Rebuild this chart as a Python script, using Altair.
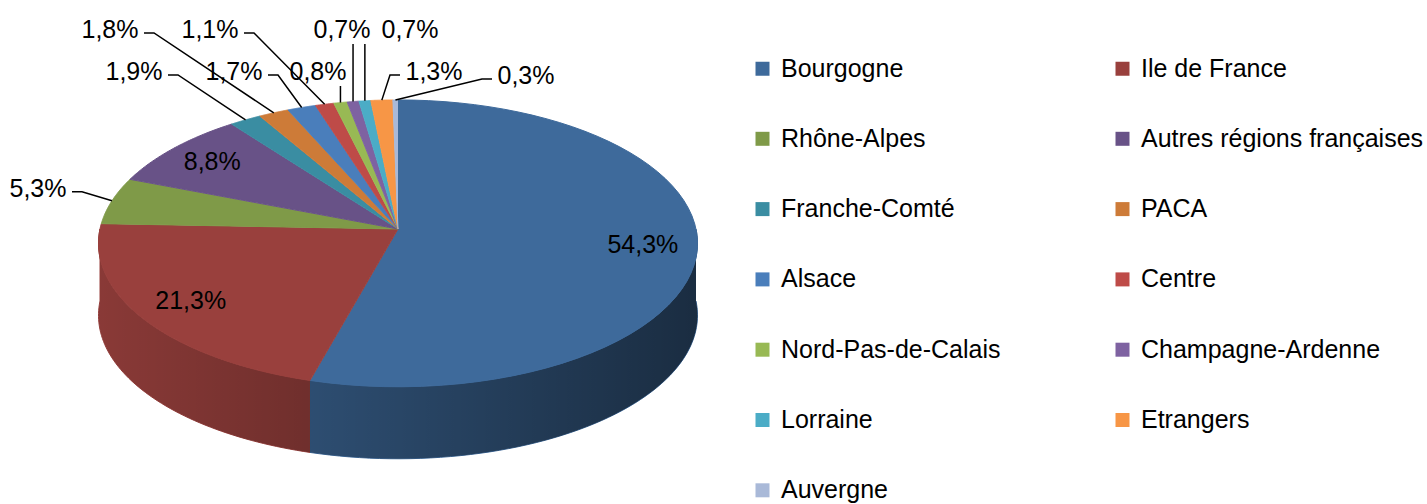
import math
import altair as alt
import pandas as pd

# ---------------- data ----------------
regions = ["Bourgogne", "Ile de France", "Rhône-Alpes", "Autres régions françaises",
           "Franche-Comté", "PACA", "Alsace", "Centre", "Nord-Pas-de-Calais",
           "Champagne-Ardenne", "Lorraine", "Etrangers", "Auvergne"]
shares = [54.3, 21.3, 5.3, 8.8, 1.9, 1.8, 1.7, 1.1, 0.8, 0.7, 0.7, 1.3, 0.3]

# ---------------- style ----------------
colors = ["#3E6A9B", "#99403D", "#7F9A48", "#685287", "#3A8DA2", "#CD7B38",
          "#4A7EBB", "#BE4B48", "#98B954", "#7E62A1", "#4BACC6", "#F79646", "#A9B9D8"]
FONT = "Liberation Sans"
CX, CY, RX, RY, P, DEPTH = 398, 229, 298, 142, 0.1, 72
N = 60

df = pd.DataFrame({"region": regions, "share": shares, "order": list(range(len(regions)))})
cscale = alt.Scale(domain=regions, range=colors)


def px(t, k=1.0):
    return f"({CX} + {k}*{RX}*sin({t})/(1 + {P}*{k}*cos({t})))"


def py(t, k=1.0):
    return f"({CY} - {k}*{RY}*cos({t})/(1 + {P}*{k}*cos({t})))"


XP = alt.X("px:Q", scale=None, axis=None)
YP = alt.Y("py:Q", scale=None, axis=None)

base = (
    alt.Chart(df)
    .transform_window(cum="sum(share)", sort=[alt.SortField("order")], frame=[None, 0])
    .transform_joinaggregate(total="sum(share)")
    .transform_calculate(a0="2*PI*(datum.cum - datum.share)/datum.total")
    .transform_calculate(a1="2*PI*datum.cum/datum.total")
    .transform_calculate(mid="(datum.a0 + datum.a1)/2")
)

# legend carrier (hidden under the pie)
legend_layer = base.mark_square(size=4, opacity=1).encode(
    x=alt.value(CX), y=alt.value(CY),
    color=alt.Color("region:N", scale=cscale, title=None,
                    legend=alt.Legend(orient="none", legendX=750, legendY=56, columns=2,
                                      direction="horizontal",
                                      symbolType="square", symbolSize=196, symbolStrokeWidth=0,
                                      labelFontSize=25, labelFont=FONT, labelColor="black",
                                      rowPadding=44.3, columnPadding=109, labelOffset=6,
                                      labelLimit=500, padding=0)),
)

# front wall of the 3D pie
M = N
wall = (
    base.transform_calculate(s0="max(datum.a0, PI/2)")
    .transform_calculate(s1="min(datum.a1, 3*PI/2)")
    .transform_filter("datum.s1 > datum.s0")
    .transform_calculate(seq=f"sequence(0, {2 * M + 2})")
    .transform_flatten(["seq"], as_=["idx"])
    .transform_calculate(
        t=f"datum.idx <= {M} ? datum.s0 + (datum.s1 - datum.s0)*datum.idx/{M} "
          f": datum.s1 - (datum.s1 - datum.s0)*(datum.idx - {M + 1})/{M}")
    .transform_calculate(px=px("datum.t"))
    .transform_calculate(py=f"{py('datum.t')} + (datum.idx > {M} ? {DEPTH} : 0)")
    .mark_line(filled=True, strokeWidth=1, interpolate="linear")
    .encode(x=XP, y=YP, order="idx:Q",
            color=alt.Color("region:N", scale=cscale, legend=None),
            stroke=alt.Stroke("region:N", scale=cscale, legend=None))
)

# shading of the whole front wall (lighting from the left)
shade = (
    base.transform_aggregate(n="count()")
    .transform_calculate(seq=f"sequence(0, {2 * M + 2})")
    .transform_flatten(["seq"], as_=["idx"])
    .transform_calculate(
        t=f"datum.idx <= {M} ? PI/2 + PI*datum.idx/{M} : 3*PI/2 - PI*(datum.idx - {M + 1})/{M}")
    .transform_calculate(px=px("datum.t"))
    .transform_calculate(py=f"{py('datum.t')} + (datum.idx > {M} ? {DEPTH} : 0)")
    .mark_line(
        filled=True, strokeWidth=0,
        fill=alt.LinearGradient(
            gradient="linear", x1=0, x2=1, y1=0, y2=0,
            stops=[alt.GradientStop(color="rgba(0,0,0,0.10)", offset=0),
                   alt.GradientStop(color="rgba(0,0,0,0.58)", offset=1)]))
    .encode(x=XP, y=YP, order="idx:Q")
)

# top faces
top = (
    base.transform_calculate(seq=f"sequence(0, {N + 2})")
    .transform_flatten(["seq"], as_=["idx"])
    .transform_calculate(t=f"datum.a0 + (datum.a1 - datum.a0)*(datum.idx - 1)/{N}")
    .transform_calculate(px=f"datum.idx == 0 ? {CX} : {px('datum.t')}")
    .transform_calculate(py=f"datum.idx == 0 ? {CY} : {py('datum.t')}")
    .mark_line(filled=True, strokeWidth=1, interpolate="linear")
    .encode(x=XP, y=YP, order="idx:Q",
            color=alt.Color("region:N", scale=cscale, legend=None),
            stroke=alt.Stroke("region:N", scale=cscale, legend=None))
)

# label layout
lab = (
    base.transform_calculate(frac="datum.share/datum.total")
    .transform_calculate(ax=px("datum.mid"))
    .transform_calculate(ay=py("datum.mid"))
    .transform_calculate(inX=px("datum.mid", 0.82))
    .transform_calculate(inY=py("datum.mid", 0.82))
    .transform_calculate(
        kind=f"datum.frac > 0.06 ? 'in' : (datum.mid < {math.radians(300):.4f} ? 'side' : 'top')")
    .transform_window(
        window=[alt.WindowFieldDef(op="row_number", **{"as": "rk"}),
                alt.WindowFieldDef(op="lead", field="ax", **{"as": "nextAx"}),
                alt.WindowFieldDef(op="lag", field="ax", **{"as": "prevAx"})],
        groupby=["kind"], sort=[alt.SortField("order")], frame=[None, None])
    .transform_calculate(r="datum.rk - 1")
    .transform_calculate(p="floor(datum.r/2)")
    .transform_calculate(partner="datum.r % 2 == 0 ? datum.nextAx : datum.prevAx")
    .transform_calculate(hasP="isValid(datum.partner)")
    .transform_calculate(meanA="datum.hasP ? (datum.ax + datum.partner)/2 : datum.ax")
    .transform_calculate(bx="126 + 100*datum.p")
    .transform_calculate(dir="datum.meanA > datum.bx ? 1 : -1")
    .transform_calculate(up="datum.hasP && ((datum.dir > 0) == (datum.r % 2 == 1))")
    .transform_calculate(far="abs(datum.meanA - datum.bx) > 80")
    .transform_calculate(
        shift="!datum.hasP ? 0 : (datum.far ? (datum.up ? -16 : 8)*datum.dir "
              ": (datum.up ? 16 : -8)*datum.dir)")
    .transform_calculate(
        lx="datum.kind == 'in' ? datum.inX : (datum.kind == 'side' ? datum.ax - 74 : datum.bx + datum.shift)")
    .transform_calculate(
        ly="datum.kind == 'in' ? datum.inY : (datum.kind == 'side' ? datum.ay - 12 : "
           "(datum.hasP ? (datum.up ? 30 : 72) : 76))")
    .transform_calculate(lbl="replace(format(datum.share, '.1f'), '.', ',') + '%'")
)

labels = lab.mark_text(font=FONT, fontSize=25, color="black", align="center",
                       baseline="middle").encode(
    x=alt.X("lx:Q", scale=None, axis=None), y=alt.Y("ly:Q", scale=None, axis=None),
    text="lbl:N")

leaders = (
    lab.transform_filter("datum.kind != 'in'")
    .transform_calculate(seq="sequence(0, 3)")
    .transform_flatten(["seq"], as_=["idx"])
    .transform_calculate(
        mode="datum.ax > datum.lx + 50 ? 'R' : (datum.ax < datum.lx - 50 ? 'L' : 'V')")
    .transform_calculate(
        px="datum.idx == 2 ? datum.ax : (datum.mode == 'R' ? datum.lx + 34 + 10*datum.idx : "
           "(datum.mode == 'L' ? datum.lx - 34 - 10*datum.idx : datum.ax))")
    .transform_calculate(
        py="datum.idx == 2 ? datum.ay : (datum.mode == 'V' ? datum.ly + 14 : datum.ly + 3)")
    .mark_line(color="black", strokeWidth=1.5)
    .encode(x=XP, y=YP, order="idx:Q", detail="region:N")
)

chart = (
    alt.layer(legend_layer, wall, shade, top, leaders, labels)
    .properties(width=1427, height=504, padding=0,
                autosize=alt.AutoSizeParams(type="none"))
    .configure_view(stroke=None)
    .configure_legend(labelFont=FONT)
)

chart.save("out.html", embed_options={"renderer": "svg", "actions": False})
